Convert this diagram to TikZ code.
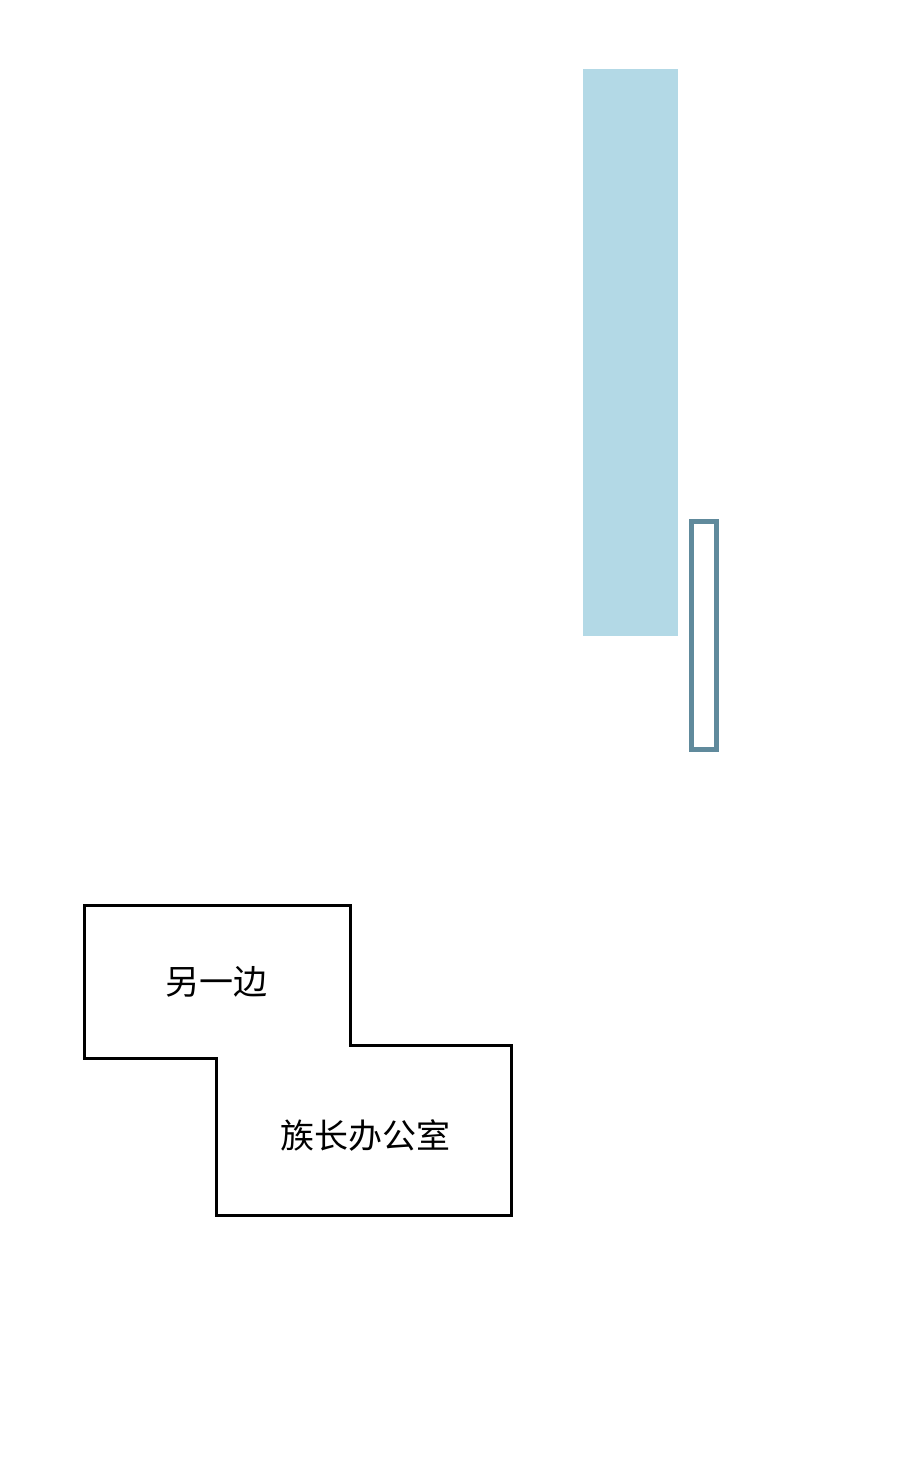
\documentclass[tikz,border=0pt]{standalone}
\usepackage{fontspec}
\newfontfamily\cjk{Noto Sans CJK SC}
\definecolor{paleblue}{RGB}{179,217,230}
\definecolor{slateblue}{RGB}{96,138,156}
\tikzset{
  room/.style={draw=black,line width=1.5pt,line join=miter},
  label/.style={font=\cjk\fontsize{17}{17}\selectfont,inner sep=0pt}
}
\begin{document}
\begin{tikzpicture}[x=0.5pt,y=-0.5pt]
	\useasboundingbox (0,0) rectangle (900,1462);
	% window strip and door
	\fill[paleblue] (583,69) rectangle (678,636);
	\draw[slateblue,line width=2.5pt] (691.5,521.5) rectangle (716.5,749.5);
	% floor plan
	\coordinate (A) at (84,905);
	\coordinate (B) at (350,905);
	\coordinate (C) at (350,1045);
	\coordinate (D) at (511,1045);
	\coordinate (E) at (511,1215);
	\coordinate (F) at (216,1215);
	\coordinate (G) at (216,1058);
	\coordinate (H) at (84,1058);
	\draw[room] (A)--(B)--(C)--(D)--(E)--(F)--(G)--(H)--cycle;
	\node[label] (other) at (216,982) {另一边};
	\node[label] (office) at (365,1135) {族长办公室};
\end{tikzpicture}
\end{document}
